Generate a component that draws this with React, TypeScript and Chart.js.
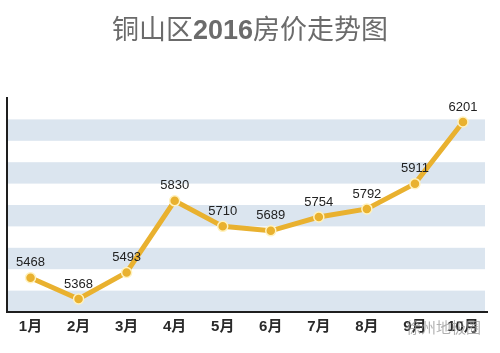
import React, { useEffect, useRef } from "react";
import { Chart, registerables } from "chart.js";

Chart.register(...registerables);

const months = ["1月", "2月", "3月", "4月", "5月", "6月", "7月", "8月", "9月", "10月"];
const prices = [5468, 5368, 5493, 5830, 5710, 5689, 5754, 5792, 5911, 6201];
const yMin = 5307;
const yMax = 6314;
const bandCount = 10;

const bandsPlugin = {
  id: "bands",
  beforeDraw(chart: any) {
    const { ctx, chartArea, scales } = chart;
    const y = scales.y;
    const step = (yMax - yMin) / bandCount;
    ctx.save();
    ctx.fillStyle = "#dbe5ef";
    for (let i = 1; i < bandCount; i += 2) {
      const top = y.getPixelForValue(yMax - i * step);
      const bottom = y.getPixelForValue(yMax - (i + 1) * step);
      ctx.fillRect(chartArea.left, top, chartArea.right - chartArea.left - 2, bottom - top);
    }
    ctx.restore();
  },
};

const labelsPlugin = {
  id: "pointLabels",
  afterDatasetsDraw(chart: any) {
    const { ctx } = chart;
    const meta = chart.getDatasetMeta(0);
    ctx.save();
    ctx.font = "13px 'Liberation Sans', Arial, sans-serif";
    ctx.fillStyle = "#222";
    ctx.textAlign = "center";
    ctx.textBaseline = "middle";
    meta.data.forEach((pt: any, i: number) => {
      ctx.fillText(String(prices[i]), pt.x, pt.y - 15);
    });
    ctx.restore();
  },
};

export default function App() {
  const ref = useRef<HTMLCanvasElement>(null);
  useEffect(() => {
    if (!ref.current) return;
    const chart = new Chart(ref.current, {
      type: "line",
      data: {
        labels: months,
        datasets: [
          {
            data: prices,
            borderColor: "#e9b12f",
            borderWidth: 5,
            pointRadius: 5,
            pointBackgroundColor: "#e9b12f",
            pointBorderColor: "#fff2bf",
            pointBorderWidth: 1.5,
            tension: 0,
          },
        ],
      },
      options: {
        responsive: false,
        animation: false,
        layout: { padding: { left: 5, right: 13, top: 98, bottom: 0 } },
        plugins: {
          legend: { display: false },
          tooltip: { enabled: false },
          title: { display: false },
        },
        scales: {
          x: {
            type: "category",
            offset: true,
            grid: { display: false, drawTicks: false },
            border: { display: true, color: "#1e1e1e", width: 2 },
            ticks: {
              padding: 6,
              color: "#2a2a2a",
              font: { size: 15, weight: "bold", family: "'Liberation Sans', 'Noto Sans CJK SC', sans-serif" },
              maxRotation: 0,
              autoSkip: false,
            },
            afterFit: (s: any) => {
              s.height = 41;
            },
          },
          y: {
            min: yMin,
            max: yMax,
            grid: { display: false, drawTicks: false },
            border: { display: true, color: "#1e1e1e", width: 2 },
            ticks: { display: false },
            afterFit: (s: any) => {
              s.width = 0;
            },
          },
        },
      },
      plugins: [bandsPlugin, labelsPlugin],
    });
    return () => chart.destroy();
  }, []);

  return (
    <div style={{ position: "fixed", left: 0, top: 0, width: 500, height: 353, background: "#fff", overflow: "hidden" }}>
      <canvas ref={ref} width={500} height={353} style={{ position: "absolute", left: 0, top: 0 }} />
      <div
        style={{
          position: "absolute",
          left: 0,
          top: 12,
          width: 500,
          textAlign: "center",
          fontSize: 27,
          lineHeight: "36px",
          color: "#6b6b6b",
          fontFamily: "'Liberation Sans', 'Noto Sans CJK SC', sans-serif",
          whiteSpace: "nowrap",
        }}
      >
        铜山区<span style={{ fontWeight: "bold" }}>2016</span>房价走势图
      </div>
      <div
        style={{
          position: "absolute",
          left: 406,
          top: 317,
          fontSize: 15,
          lineHeight: "20px",
          color: "rgba(150,150,150,0.75)",
          fontFamily: "'Noto Sans CJK SC', sans-serif",
          whiteSpace: "nowrap",
        }}
      >
        徐州地极圈
      </div>
    </div>
  );
}
